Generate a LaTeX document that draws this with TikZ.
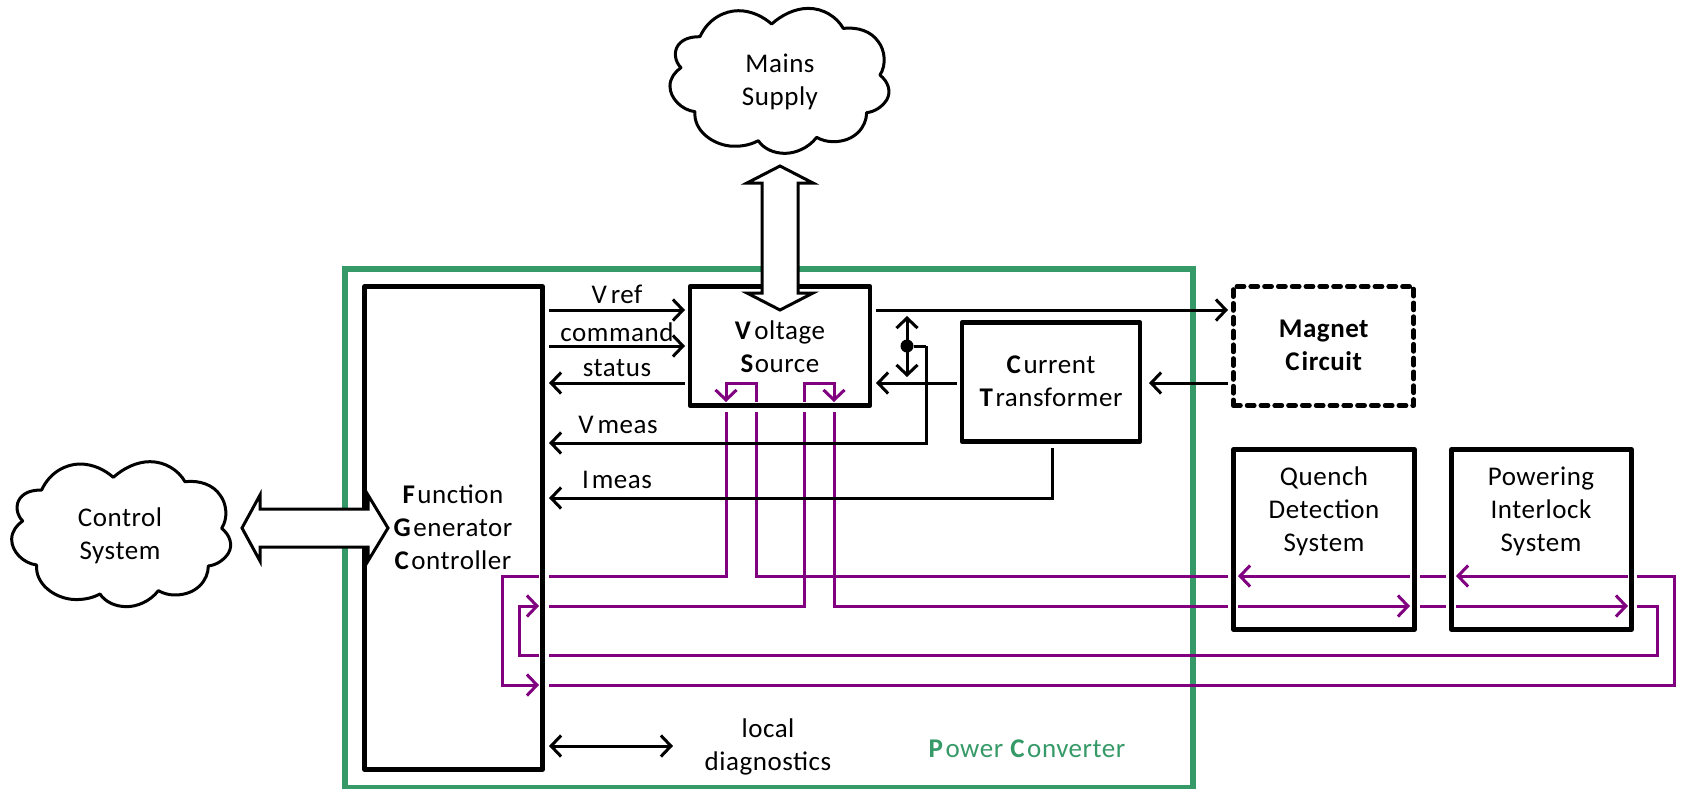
\documentclass[tikz,border=0pt]{standalone}
\usepackage{fontspec}
\setmainfont[LetterSpace=2]{Carlito}
\usetikzlibrary{arrows.meta}
\definecolor{pcgreen}{HTML}{369A68}
\definecolor{sigpurple}{HTML}{800080}
\tikzset{
  box/.style={draw=black,line width=4.6pt,fill=none,minimum width=#1,line join=round,inner sep=0pt,align=center},
  txt/.style={inner sep=0pt,align=center,text=black},
  conn/.style={draw=black,line width=3pt,line join=miter},
  sig/.style={draw=sigpurple,line width=3pt,line join=miter},
  tip/.style={-{Straight Barb[length=10pt,width=21pt,line width=3pt]}},
  tips/.style={{Straight Barb[length=10pt,width=21pt,line width=3pt]}-{Straight Barb[length=10pt,width=21pt,line width=3pt]}},
  bigarrow/.style={draw=black,line width=3pt,fill=white,line join=miter},
  cloudline/.style={draw=black,line width=3pt,fill=white,line join=round},
}
\newcommand{\cloudpath}{
  (125,150) .. controls (150,95) and (200,72) .. (240,72)
  .. controls (280,72) and (315,90) .. (340,112)
  .. controls (370,85) and (410,65) .. (450,65)
  .. controls (495,65) and (535,90) .. (555,125)
  .. controls (600,120) and (640,135) .. (660,165)
  .. controls (680,190) and (685,235) .. (665,265)
  .. controls (690,285) and (700,315) .. (685,340)
  .. controls (672,360) and (650,375) .. (625,378)
  .. controls (625,420) and (590,465) .. (525,465)
  .. controls (505,465) and (490,460) .. (475,452)
  .. controls (450,485) and (410,500) .. (380,500)
  .. controls (345,500) and (315,485) .. (300,462)
  .. controls (270,478) and (240,480) .. (215,478)
  .. controls (160,472) and (105,430) .. (110,375)
  .. controls (70,370) and (35,335) .. (35,298)
  .. controls (35,275) and (50,255) .. (68,243)
  .. controls (50,225) and (45,195) .. (60,175)
  .. controls (75,155) and (100,150) .. (125,150) -- cycle}
\begin{document}
\begin{tikzpicture}[x=1pt,y=-1pt,font=\fontsize{27}{33}\selectfont]
\useasboundingbox (0,0) rectangle (1683,788);
\fill[white] (0,0) rectangle (1683,788);
% power converter frame
\node[draw=pcgreen,line width=6pt,minimum width=848pt,minimum height=519pt,inner sep=0pt] (pc) at (769,528) {};
\node[inner sep=0pt,text=pcgreen] (pclabel) at (1027,749) {\textbf{P}\kern2pt ower \textbf{C}\kern2pt onverter};
% boxes
\node[box=178pt,minimum height=483pt] (fgc) at (453.5,528) {};
\node[txt] (fgctext) at (453,527.5) {\textbf{F}\kern2pt unction\\\textbf{G}\kern2pt enerator\\\textbf{C}\kern2pt ontroller};
\node[box=180pt,minimum height=119pt] (vs) at (780,346) {};
\node[txt] (vstext) at (780,347) {\textbf{V}\kern3pt oltage\\\textbf{S}\kern1pt ource};
\node[box=178pt,minimum height=119pt] (ct) at (1051,382) {};
\node[txt] (cttext) at (1051,381.5) {\textbf{C}\kern2pt urrent\\\textbf{T}\kern2pt ransformer};
\node[box=180.5pt,minimum height=119pt,line cap=round,dash pattern=on 7.2pt off 6.6pt] (mc) at (1323.5,346) {};
\node[txt] (mctext) at (1324,345.5) {\textbf{Magnet}\\\textbf{C\kern2pt ircuit}};
\node[box=181pt,minimum height=180pt] (qd) at (1324,539.5) {};
\node[txt] (qdtext) at (1324,511) {Quench\\Detection\\System};
\node[box=180pt,minimum height=180pt] (pi) at (1541.5,539.5) {};
\node[txt] (pitext) at (1541,511) {Powering\\Interlock\\System};
% clouds
\begin{scope}[shift={(0,440)},x=0.3333pt,y=-0.3333pt]
\path[cloudline] \cloudpath;
\end{scope}
\node[txt] (control) at (120,536) {Control\\System};
\begin{scope}[shift={(658.3,-13.3)},x=0.3333pt,y=-0.3333pt]
\path[cloudline] \cloudpath;
\end{scope}
\node[txt] (mains) at (780,82) {Mains\\Supply};
% named end points
\foreach \n/\x/\y in {
 a1/549/310,a2/685/310,b1/549/346,b2/685/346,c1/685/383,c2/549/383,
 d1/926/346,d2/926/443,d3/549/443,e1/1052/448,e2/1052/498,e3/549/498,
 f1/876/310,f2/1228/310,g1/957/383,g2/876/383,h1/1228/383,h2/1149/383,
 i1/907/316,i2/907/377,j1/549/746,j2/673/746,
 k1/726/412,k2/726/576,k3/549/576,l1/756/412,l2/756/576,l3/1228/576,
 m1/804/412,m2/804/606,m3/549/606,n1/834/412,n2/834/606,n3/1228/606,
 o1/756/402,o2/756/383,o3/726/383,o4/726/402,
 p1/804/402,p2/804/383,p3/834/383,p4/834/402,
 q1/539/576,q2/502/576,q3/502/685,q4/539/685,
 r1/539/655,r2/519/655,r3/519/606,r4/539/606,
 s1/549/685,s2/1674/685,s3/1674/576,s4/1637/576,
 t1/549/655,t2/1657/655,t3/1657/606,t4/1637/606,
 u1/1410/576,u2/1238/576,u3/1238/606,u4/1410/606,
 v1/1420/576,v2/1446/576,v3/1420/606,v4/1446/606,
 w1/1628/576,w2/1456/576,w3/1456/606,w4/1628/606}
 {\coordinate (\n) at (\x,\y);}
% purple signal lines
\draw[sig] (k1) -- (k2) -- (k3);
\draw[sig] (l1) -- (l2) -- (l3);
\draw[sig] (m1) -- (m2) -- (m3);
\draw[sig] (n1) -- (n2) -- (n3);
\draw[sig,tip] (o1) -- (o2) -- (o3) -- (o4);
\draw[sig,tip] (p1) -- (p2) -- (p3) -- (p4);
\draw[sig,tip] (q1) -- (q2) -- (q3) -- (q4);
\draw[sig,tip] (r1) -- (r2) -- (r3) -- (r4);
\draw[sig] (s1) -- (s2) -- (s3) -- (s4);
\draw[sig] (t1) -- (t2) -- (t3) -- (t4);
\draw[sig,tip] (u1) -- (u2);
\draw[sig,tip] (u3) -- (u4);
\draw[sig] (v1) -- (v2);
\draw[sig] (v3) -- (v4);
\draw[sig,tip] (w1) -- (w2);
\draw[sig,tip] (w3) -- (w4);
% black connectors
\draw[conn,tip] (a1) -- (a2);
\draw[conn,tip] (b1) -- (b2);
\draw[conn,tip] (c1) -- (c2);
\draw[conn,tip] (d1) -- (d2) -- (d3);
\draw[conn,tip] (e1) -- (e2) -- (e3);
\draw[conn,tip] (f1) -- (f2);
\draw[conn,tip] (g1) -- (g2);
\draw[conn,tip] (h1) -- (h2);
\draw[conn,tips] (i1) -- (i2);
\draw[conn,tips] (j1) -- (j2);
\node[circle,fill=black,inner sep=0pt,minimum size=13pt] (dot) at (907,346) {};
\draw[conn] (dot) -- (d1);
% labels
\node[txt] (lvref) at (617,294) {V\kern4pt ref};
\node[txt] (lcmd) at (617,332) {command};
\node[txt] (lstatus) at (617,368) {status};
\node[txt] (lvmeas) at (618,425) {V\kern4pt meas};
\node[txt] (limeas) at (617,480) {I\kern3pt meas};
\node[txt] (ldiag) at (768,747) {local\\diagnostics};
% big double arrows
\path[bigarrow] (780,166) -- (813,183) -- (798,183) -- (798,293) -- (813,293) -- (780,310)
  -- (747,293) -- (762,293) -- (762,183) -- (747,183) -- cycle;
\path[bigarrow] (242,528) -- (260,495) -- (260,509) -- (368,509) -- (368,495) -- (388,528)
  -- (368,561) -- (368,547) -- (260,547) -- (260,561) -- cycle;
\end{tikzpicture}
\end{document}
